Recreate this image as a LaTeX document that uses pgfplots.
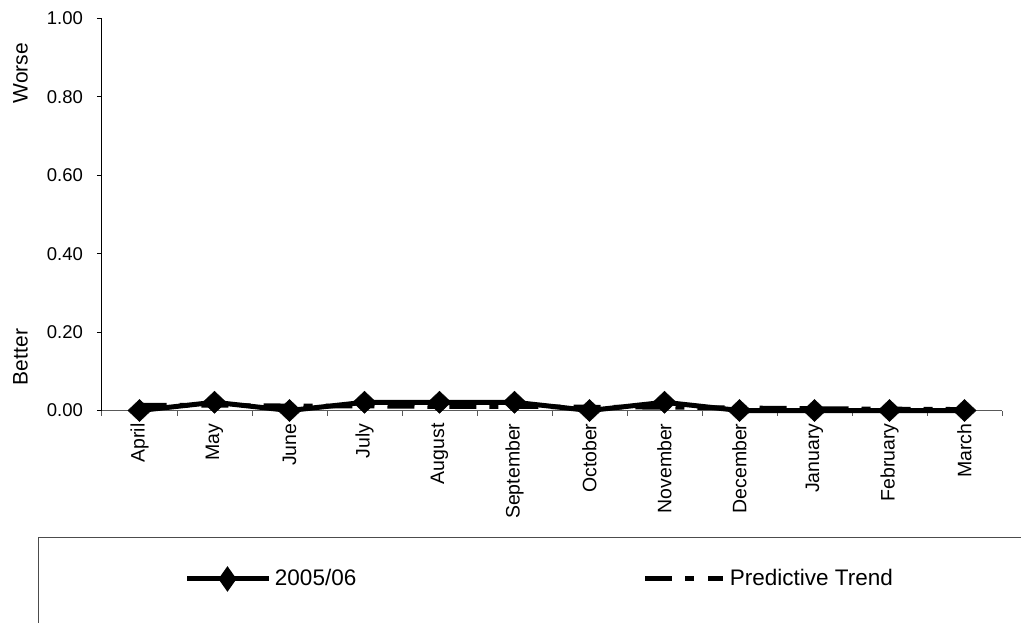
\documentclass[border=0pt]{standalone}
\usepackage{pgfplots}
\pgfplotsset{compat=1.18}
\usepackage{fontspec}
\setmainfont{Liberation Sans}
\begin{document}
\fontsize{17.5}{20}\selectfont
\begin{tikzpicture}[x=1pt,y=1pt]
\path[use as bounding box] (0,0) rectangle (1021,622);
\clip (0,0) rectangle (1021,622);
\begin{axis}[
  at={(102pt,211.5pt)}, anchor=south west,
  scale only axis, width=900pt, height=392pt,
  xmin=-0.5, xmax=11.5, ymin=0, ymax=1,
  axis x line*=bottom, axis y line*=left,
  x axis line style={gray!70!black, line width=1pt, -},
  y axis line style={black, line width=1pt, -},
  tick align=outside,
  major tick length=5pt,
  xtick={-0.5,0.5,...,11.5}, xticklabels={},
  x tick style={gray!70!black, line width=1pt},
  y tick style={black, line width=1pt},
  extra x ticks={0,1,2,3,4,5,6,7,8,9,10,11},
  extra x tick labels={April,May,June,July,August,September,October,November,December,January,February,March},
  extra x tick style={major tick length=0pt, tick label style={rotate=90, anchor=east, xshift=-7pt, font=\fontsize{19.5}{22}\selectfont}},
  ytick={0,0.2,0.4,0.6,0.8,1.0},
  yticklabel style={/pgf/number format/fixed, /pgf/number format/fixed zerofill, /pgf/number format/precision=2,
    font=\fontsize{18.5}{21}\selectfont, xshift=-8pt},
  /pgf/number format/assume math mode=true,
  clip=false,
  legend style={at={(rel axis cs:0.0922,-0.4298)}, anchor=west, draw=none, fill=none,
    inner sep=0pt, outer sep=0pt, nodes={inner sep=0pt},
    font=\fontsize{22.5}{25}\selectfont, legend columns=2,
    /tikz/every even column/.append style={column sep=0pt},
    /tikz/every odd column/.append style={column sep=0pt}},
  legend cell align=left,
]
\addplot[black, line width=5pt, mark=diamond*, mark size=11pt,
  mark options={solid, xscale=1.4, line width=0.5pt},
  legend image code/.code={
    \draw[line width=5pt] (0pt,0pt) -- (82pt,0pt);
    \path[fill=black] (40pt,-8.5pt) -- (46pt,0pt) -- (40pt,8.5pt) -- (34pt,0pt) -- cycle;
  }] coordinates {
  (0,0) (1,0.021) (2,0) (3,0.021) (4,0.021) (5,0.021) (6,0) (7,0.021) (8,0) (9,0) (10,0) (11,0)
};
\addlegendentry{\makebox[371pt][l]{\hspace{3pt}2005/06}}
\addplot[black, line width=4.5pt, dash pattern=on 27pt off 13pt on 9pt off 13pt,
  legend image code/.code={
    \draw[line width=5pt] (0pt,0pt) -- (27pt,0pt);
    \draw[line width=5pt] (40pt,0pt) -- (49pt,0pt);
    \draw[line width=5pt] (63pt,0pt) -- (78pt,0pt);
  }] coordinates {
  (0,0.014) (1,0.013) (2,0.012) (3,0.011) (4,0.010) (5,0.010) (6,0.009) (7,0.008) (8,0.007) (9,0.005) (10,0.004) (11,0.003)
};
\addlegendentry{\hspace{4pt}Predictive Trend}
\end{axis}
\node[rotate=90, font=\fontsize{21}{24}\selectfont] at (20.5,549) {Worse};
\node[rotate=90, font=\fontsize{21}{24}\selectfont] at (20.5,265) {Better};
\draw[gray!60!black, line width=1pt] (38,85) rectangle (1100,-50);
\end{tikzpicture}
\end{document}
